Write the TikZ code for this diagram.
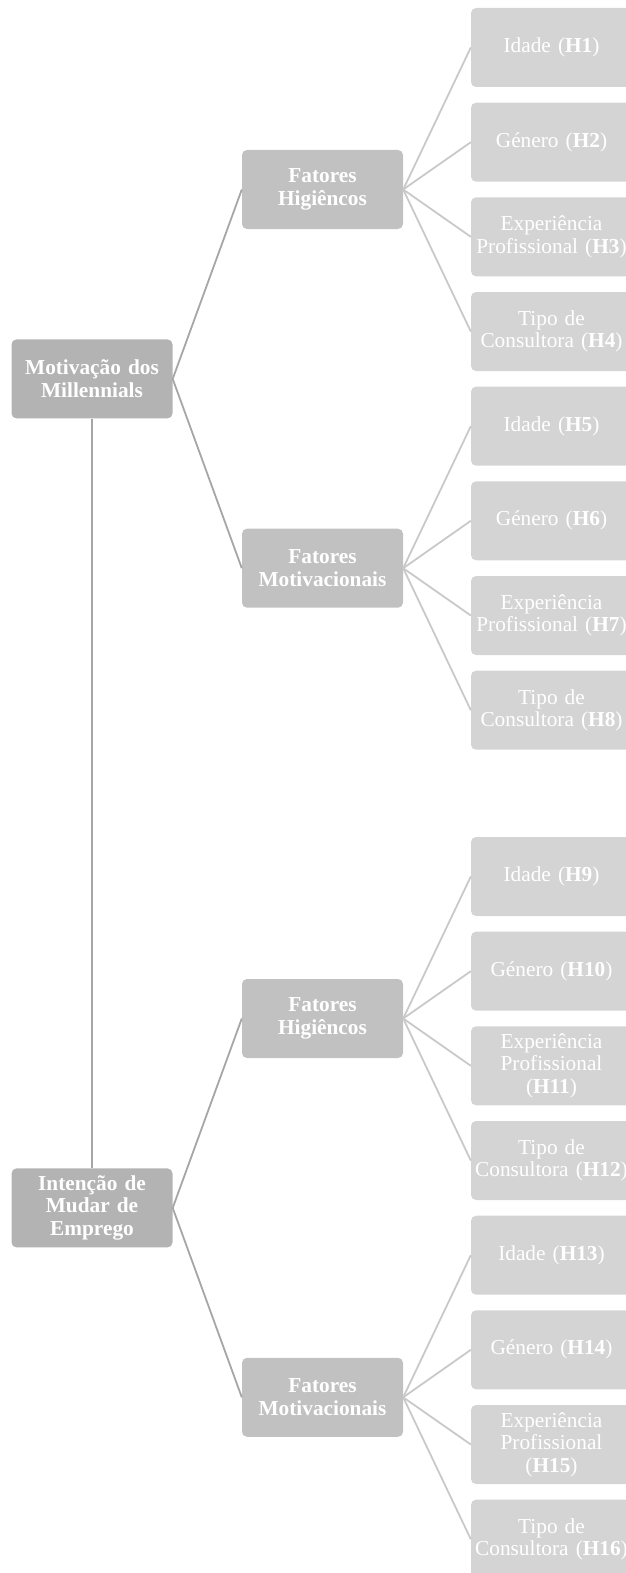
\documentclass[tikz,border=0pt]{standalone}
\usepackage{fontspec}
\setmainfont{Liberation Serif}
\hyphenpenalty=10000
\exhyphenpenalty=10000
\definecolor{lfill}{HTML}{B3B3B3}
\definecolor{mfill}{HTML}{C1C1C1}
\definecolor{rfill}{HTML}{D4D4D4}
\definecolor{lline}{HTML}{A6A6A6}
\definecolor{rline}{HTML}{C9C9C9}
\begin{document}
\begin{tikzpicture}[x=1pt,y=-1pt,
  box/.style={rounded corners=5pt, minimum width=161pt, minimum height=79pt, inner sep=0pt,
    align=center, text=white, font=\fontsize{21.3}{22.6}\selectfont},
  lbox/.style={box, fill=lfill, text width=150pt, font=\fontsize{21.3}{22.6}\selectfont\bfseries},
  mbox/.style={box, fill=mfill, text width=150pt, font=\fontsize{21.3}{22.6}\selectfont\bfseries},
  rbox/.style={box, fill=rfill, text width=155pt},
  lconn/.style={draw=lline, line width=1.8pt},
  rconn/.style={draw=rline, line width=1.8pt}]
\useasboundingbox (0,0) rectangle (625,1573);

% connectors first (behind boxes)
\node[lbox] (L1) at (92,378.9) {Motivação dos Millennials};
\node[lbox] (L2) at (92,1207.9) {Intenção de Mudar de Emprego};

\node[mbox] (M1) at (322.5,189.5) {Fatores Higiêncos};
\node[mbox] (M2) at (322.5,568.2) {Fatores Motivacionais};
\node[mbox] (M3) at (322.5,1018.5) {Fatores Higiêncos};
\node[mbox] (M4) at (322.5,1397.3) {Fatores Motivacionais};

\node[rbox] (R1) at (551.5,47.5) {Idade (\textbf{H1})};
\node[rbox] (R2) at (551.5,142.2) {Género (\textbf{H2})};
\node[rbox] (R3) at (551.5,236.8) {Experiência Profissional (\textbf{H3})};
\node[rbox] (R4) at (551.5,331.5) {Tipo de Consultora (\textbf{H4})};
\node[rbox] (R5) at (551.5,426.2) {Idade (\textbf{H5})};
\node[rbox] (R6) at (551.5,520.8) {Género (\textbf{H6})};
\node[rbox] (R7) at (551.5,615.5) {Experiência Profissional (\textbf{H7})};
\node[rbox] (R8) at (551.5,710.2) {Tipo de Consultora (\textbf{H8})};
\node[rbox] (R9) at (551.5,876.5) {Idade (\textbf{H9})};
\node[rbox] (R10) at (551.5,971.2) {Género (\textbf{H10})};
\node[rbox] (R11) at (551.5,1065.8) {Experiência Profissional (\textbf{H11})};
\node[rbox] (R12) at (551.5,1160.5) {Tipo de Consultora (\textbf{H12})};
\node[rbox] (R13) at (551.5,1255.2) {Idade (\textbf{H13})};
\node[rbox] (R14) at (551.5,1349.8) {Género (\textbf{H14})};
\node[rbox] (R15) at (551.5,1444.5) {Experiência Profissional (\textbf{H15})};
\node[rbox] (R16) at (551.5,1539.2) {Tipo de Consultora (\textbf{H16})};

\path[lconn] (L1.south) -- (L2.north);
\path[lconn] (L1.east) -- (M1.west);
\path[lconn] (L1.east) -- (M2.west);
\path[lconn] (L2.east) -- (M3.west);
\path[lconn] (L2.east) -- (M4.west);

\foreach \m/\a/\b/\c/\d in {M1/R1/R2/R3/R4, M2/R5/R6/R7/R8, M3/R9/R10/R11/R12, M4/R13/R14/R15/R16}{
  \path[rconn] (\m.east) -- (\a.west);
  \path[rconn] (\m.east) -- (\b.west);
  \path[rconn] (\m.east) -- (\c.west);
  \path[rconn] (\m.east) -- (\d.west);
}
\end{tikzpicture}
\end{document}
